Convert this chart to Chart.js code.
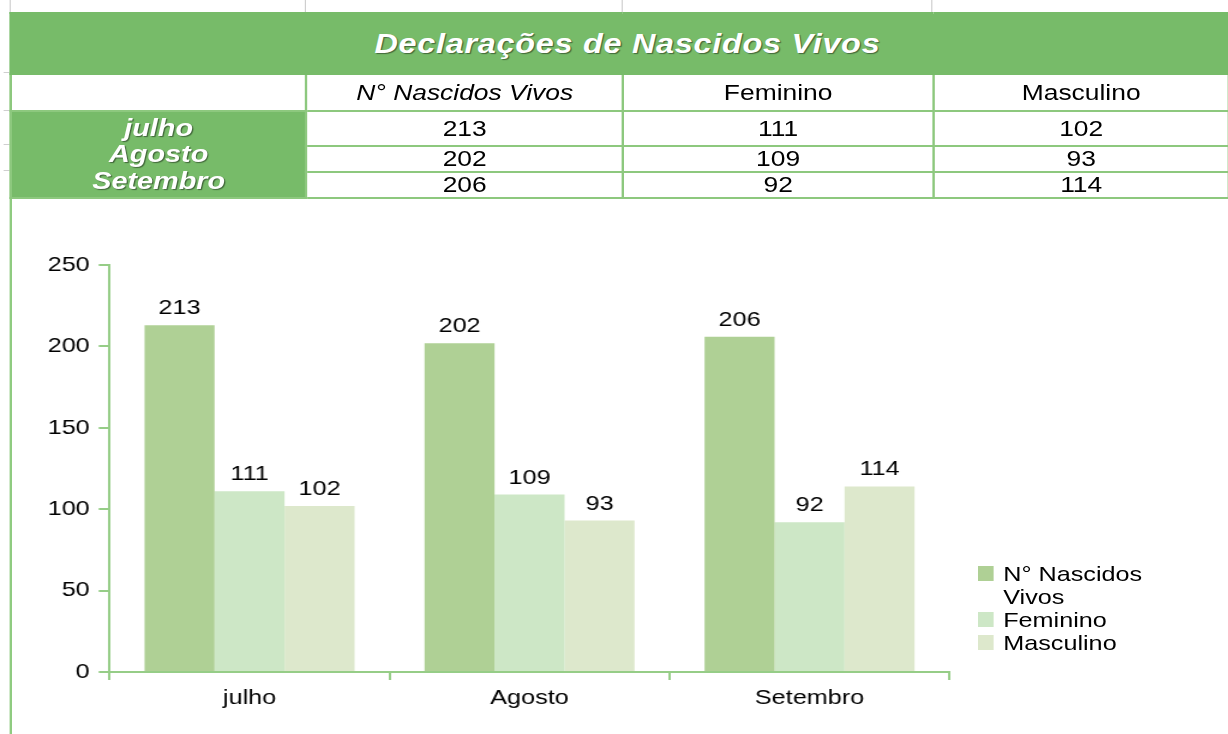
<!DOCTYPE html>
<html lang="pt">
<head>
<meta charset="UTF-8">
<title>Declarações de Nascidos Vivos</title>
<script src="https://cdn.jsdelivr.net/npm/chart.js"></script>
<style>
  body { margin: 0; background: #fff; font-family: "Liberation Sans", Arial, sans-serif; overflow: hidden; }
  /* the original picture is stretched sideways, so the sheet is laid out narrower and widened */
  .sheet { position: absolute; left: 0; top: 0; width: 1023.33px; height: 734px; transform: scaleX(1.2); transform-origin: 0 0; }
  .grid-v { position: absolute; top: 0; height: 12px; width: 1px; background: #cfcfcf; }
  .grid-h { position: absolute; left: 3px; width: 5px; height: 1px; background: #cfcfcf; }
  .edge-left { position: absolute; left: 7.5px; top: 12px; width: 2px; height: 722px; background: #8fcb80; }
  table { position: absolute; left: 8.33px; top: 12px; width: 1015px; border-collapse: collapse; table-layout: fixed; }
  td { border: 2px solid #8dc87e; padding: 0; text-align: center; color: #000; font-size: 22px; line-height: 22px; white-space: nowrap; overflow: hidden; }
  td.titulo { background: #77bb69; border-color: #77bb69; color: #fff; font-size: 27px; font-weight: bold; font-style: italic; letter-spacing: 0.6px; padding-left: 12px; text-shadow: 1px 1px 1px rgba(0,0,0,0.45); }
  td.meses { background: #77bb69; color: #fff; font-size: 24px; font-weight: bold; font-style: italic; line-height: 26.5px; text-shadow: 1px 1px 1px rgba(0,0,0,0.45); }
  td.italico { font-style: italic; }
  canvas { position: absolute; left: 8.33px; top: 197px; }
  .legenda { position: absolute; left: 815px; top: 562px; font-size: 21px; line-height: 23px; color: #000; }
  .legenda div { position: relative; padding-left: 21px; width: 140px; }
  .legenda span { position: absolute; left: 0; top: 4px; width: 12.5px; height: 15px; }
</style>
</head>
<body>
<div class="sheet">
  <div class="grid-v" style="left:8px"></div>
  <div class="grid-v" style="left:254px"></div>
  <div class="grid-v" style="left:518px"></div>
  <div class="grid-v" style="left:776px"></div>
  <div class="grid-h" style="top:72px"></div>
  <div class="grid-h" style="top:110px"></div>
  <div class="grid-h" style="top:144px"></div>
  <div class="grid-h" style="top:170px"></div>
  <div class="edge-left"></div>
  <table id="tabela"></table>
  <canvas id="grafico" width="1015" height="537"></canvas>
  <div class="legenda" id="legenda"></div>
</div>
<script>
  const titulo = 'Declarações de Nascidos Vivos';
  const meses = ['julho', 'Agosto', 'Setembro'];
  const series = ['N° Nascidos Vivos', 'Feminino', 'Masculino'];
  const nascidosVivos = [213, 202, 206];
  const feminino = [111, 109, 92];
  const masculino = [102, 93, 114];
  const yMax = 250;
  const yStep = 50;

  const cores = ['#afd095', '#cde7c6', '#dde8cc'];
  const verdeEixo = '#96cd87';
  const fonte = '"Liberation Sans", Arial, sans-serif';
  const valores = [nascidosVivos, feminino, masculino];

  // table above the chart
  const colW = [245.8, 264.2, 258.3, 246.7];
  let html = '<colgroup>' + colW.map(w => '<col style="width:' + w + 'px">').join('') + '</colgroup>';
  html += '<tr style="height:61px"><td class="titulo" colspan="4">' + titulo + '</td></tr>';
  html += '<tr style="height:37px"><td></td>' + series.map((s, i) =>
    '<td' + (i === 0 ? ' class="italico"' : '') + '>' + s + '</td>').join('') + '</tr>';
  const alturas = [35, 26, 26];
  meses.forEach((m, j) => {
    html += '<tr style="height:' + alturas[j] + 'px">';
    if (j === 0) {
      html += '<td class="meses" rowspan="3">' + meses.map(n => '<div>' + n + '</div>').join('') + '</td>';
    }
    html += valores.map(v => '<td>' + v[j] + '</td>').join('') + '</tr>';
  });
  document.getElementById('tabela').innerHTML = html;

  // numbers above the bars
  const rotulos = {
    id: 'rotulos',
    afterDatasetsDraw(chart) {
      const ctx = chart.ctx;
      ctx.save();
      ctx.font = '21px ' + fonte;
      ctx.fillStyle = '#000';
      ctx.textAlign = 'center';
      ctx.textBaseline = 'alphabetic';
      chart.data.datasets.forEach((ds, i) => {
        chart.getDatasetMeta(i).data.forEach((bar, j) => {
          ctx.fillText(ds.data[j], bar.x, bar.y - 11);
        });
      });
      ctx.restore();
    }
  };

  const grafico = new Chart(document.getElementById('grafico'), {
    type: 'bar',
    data: {
      labels: meses,
      datasets: series.map((s, i) => ({
        label: s,
        data: valores[i],
        backgroundColor: cores[i],
        borderWidth: 0,
        categoryPercentage: 0.75,
        barPercentage: 1.0
      }))
    },
    options: {
      responsive: false,
      animation: false,
      layout: { padding: { top: 68, right: 231.7, left: 0, bottom: 0 } },
      plugins: { legend: { display: false }, tooltip: { enabled: false } },
      scales: {
        x: {
          afterFit: s => { s.height = 62; },
          grid: { drawOnChartArea: false, color: verdeEixo, lineWidth: 2, tickLength: 8 },
          border: { color: verdeEixo, width: 2 },
          ticks: { color: '#000', padding: 6, font: { family: fonte, size: 21 } }
        },
        y: {
          min: 0,
          max: yMax,
          afterFit: s => { s.width = 83.3; },
          grid: { drawOnChartArea: false, color: verdeEixo, lineWidth: 2, tickLength: 9 },
          border: { color: verdeEixo, width: 2 },
          ticks: { stepSize: yStep, color: '#000', padding: 7.5, font: { family: fonte, size: 21 } }
        }
      }
    },
    plugins: [rotulos]
  });

  // legend beside the chart, so the long name can wrap onto two lines
  document.getElementById('legenda').innerHTML = grafico.data.datasets.map(ds =>
    '<div><span style="background:' + ds.backgroundColor + '"></span>' + ds.label + '</div>').join('');
</script>
</body>
</html>
